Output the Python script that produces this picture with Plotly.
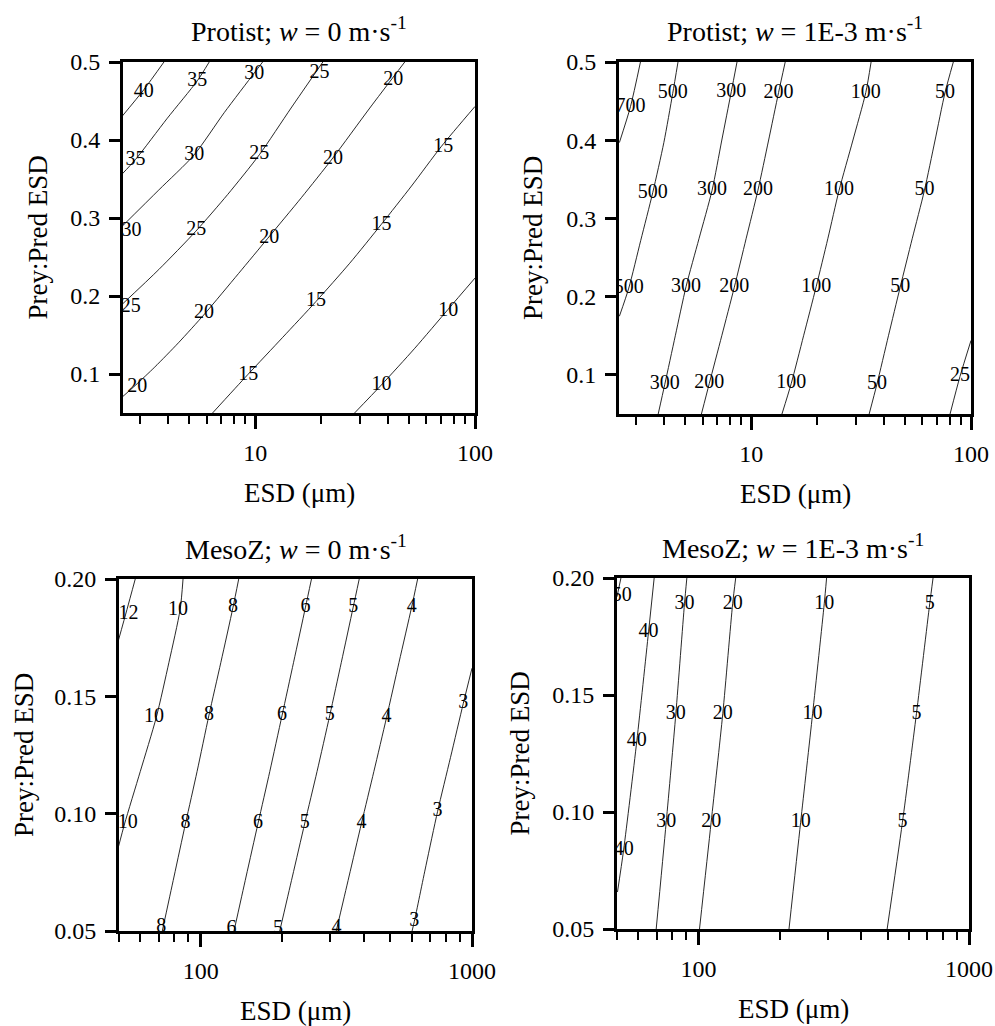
import math
import plotly.graph_objects as go

# ---------------- data ----------------
# Panel 1: Protist, w = 0
P1_LEVELS = [40, 35, 30, 25, 20, 15, 10]
P1_ESD = [
    [3.84, 3.11, 2.47],
    [6.17, 5.45, 3.98, 2.85, 2.47],
    [10.8, 9.9, 7.22, 5.27, 3.64, 2.47],
    [20.3, 14.55, 10.43, 7.48, 5.36, 3.64, 2.47],
    [47.9, 33.2, 22.55, 16.2, 11.4, 8.4, 5.88, 4.47, 3.49, 2.86, 2.40],
    [100, 70.4, 51.4, 37.5, 26.9, 18.9, 13.33, 9.23, 6.39],
    [100, 75.5, 53.2, 37.5, 28.3],
]
P1_RATIO = [
    [0.5, 0.4645, 0.430],
    [0.5, 0.476, 0.428, 0.375, 0.356],
    [0.5, 0.486, 0.435, 0.381, 0.336, 0.289],
    [0.5, 0.441, 0.381, 0.330, 0.283, 0.234, 0.189],
    [0.5, 0.441, 0.377, 0.326, 0.274, 0.229, 0.177, 0.140, 0.109, 0.086, 0.067],
    [0.443, 0.392, 0.341, 0.292, 0.242, 0.193, 0.147, 0.099, 0.05],
    [0.223, 0.183, 0.133, 0.086, 0.05],
]
P1_LAB_TEXT = ["40", "35", "30", "25", "20", "35", "30", "25", "20", "15",
               "30", "25", "20", "15", "25", "20", "15", "10", "20", "15", "10"]
P1_LAB_ESD = [3.11, 5.45, 9.9, 19.6, 42.4, 2.85, 5.27, 10.43, 22.55, 71.7,
              2.73, 5.38, 11.59, 37.5, 2.71, 5.85, 18.9, 75.5, 2.90, 9.3, 37.5]
P1_LAB_RATIO = [0.462, 0.476, 0.485, 0.486, 0.477, 0.375, 0.381, 0.382, 0.376, 0.391,
                0.283, 0.284, 0.275, 0.291, 0.186, 0.178, 0.193, 0.181, 0.083, 0.099, 0.086]

# Panel 2: Protist, w = 1E-3
P2_LEVELS = [700, 500, 300, 200, 100, 50, 25]
P2_ESD = [
    [3.13, 2.82, 2.51],
    [4.64, 4.39, 4.00, 3.56, 3.14, 2.77, 2.51],
    [8.61, 8.11, 7.33, 6.63, 5.78, 5.05, 4.51, 4.04, 3.77],
    [14.27, 13.31, 11.97, 10.72, 9.47, 8.37, 7.34, 6.44, 5.93],
    [35.1, 33.2, 28.95, 25.1, 22.3, 19.75, 17.3, 15.2, 13.79],
    [83.1, 76.2, 68.5, 61.4, 54.0, 47.6, 42.1, 37.3, 34.4],
    [100, 89.1, 80.3],
]
P2_RATIO = [
    [0.5, 0.443, 0.397],
    [0.5, 0.46, 0.397, 0.333, 0.272, 0.211, 0.175],
    [0.5, 0.462, 0.399, 0.336, 0.274, 0.213, 0.150, 0.088, 0.05],
    [0.5, 0.461, 0.399, 0.336, 0.274, 0.212, 0.150, 0.089, 0.05],
    [0.5, 0.461, 0.399, 0.336, 0.274, 0.213, 0.150, 0.089, 0.05],
    [0.5, 0.461, 0.399, 0.336, 0.274, 0.212, 0.150, 0.088, 0.05],
    [0.144, 0.098, 0.05],
]
P2_LAB_TEXT = ["700", "500", "300", "200", "100", "50",
               "500", "300", "200", "100", "50",
               "500", "300", "200", "100", "50",
               "300", "200", "100", "50", "25"]
P2_LAB_ESD = [2.82, 4.39, 8.11, 13.31, 33.2, 76.2,
              3.56, 6.63, 10.72, 25.1, 61.4,
              2.77, 5.05, 8.37, 19.75, 47.6,
              4.04, 6.44, 15.2, 37.3, 89.1]
P2_LAB_RATIO = [0.443, 0.460, 0.462, 0.461, 0.461, 0.461,
                0.333, 0.336, 0.336, 0.336, 0.336,
                0.211, 0.213, 0.212, 0.213, 0.212,
                0.088, 0.089, 0.089, 0.088, 0.098]

# Panel 3: MesoZ, w = 0
P3_LEVELS = [12, 10, 8, 6, 5, 4, 3]
P3_ESD = [
    [57.4, 53.5, 49.8],
    [86.1, 84.0, 76.4, 68.6, 59.9, 52.4, 49.8],
    [138.1, 131.6, 118.7, 107.3, 97.0, 88.0, 79.7, 72.2],
    [256.1, 243.4, 220.0, 199.6, 179.8, 162.8, 146.9, 132.7],
    [384.0, 364.9, 329.9, 299.2, 268.5, 242.0, 217.6, 195.6],
    [630.4, 599.1, 538.3, 484.3, 434.9, 391.6, 351.8, 315.9],
    [1000, 928.9, 833.4, 746.9, 676.9, 612.8, 601.4],
]
P3_RATIO = [
    [0.2, 0.187, 0.174],
    [0.2, 0.187, 0.1645, 0.141, 0.118, 0.0956, 0.086],
    [0.2, 0.188, 0.1645, 0.142, 0.118, 0.096, 0.073, 0.05],
    [0.2, 0.188, 0.1645, 0.142, 0.118, 0.096, 0.073, 0.05],
    [0.2, 0.188, 0.1645, 0.142, 0.118, 0.096, 0.073, 0.05],
    [0.2, 0.188, 0.1645, 0.141, 0.118, 0.096, 0.073, 0.05],
    [0.162, 0.147, 0.124, 0.101, 0.078, 0.054, 0.05],
]
P3_LAB_TEXT = ["12", "10", "8", "6", "5", "4",
               "10", "8", "6", "5", "4", "3",
               "10", "8", "6", "5", "4", "3",
               "8", "6", "5", "4", "3"]
P3_LAB_ESD = [54.2, 82.5, 131.6, 243.4, 364.9, 599.1,
              67.3, 107.3, 199.6, 299.2, 484.3, 928.9,
              53.9, 88.0, 162.8, 242.0, 391.6, 746.9,
              71.6, 129.8, 192.9, 316.7, 612.8]
P3_LAB_RATIO = [0.185, 0.187, 0.188, 0.188, 0.188, 0.188,
                0.141, 0.142, 0.142, 0.142, 0.141, 0.147,
                0.096, 0.096, 0.096, 0.096, 0.096, 0.101,
                0.0516, 0.0509, 0.0509, 0.0513, 0.0544]

# Panel 4: MesoZ, w = 1E-3
P4_LEVELS = [50, 40, 30, 20, 10, 5]
P4_ESD = [
    [51.7, 50.0],
    [68.6, 65.4, 59.2, 52.9, 50.2],
    [90.6, 88.8, 82.5, 76.0, 69.8],
    [137.3, 133.8, 123.0, 111.4, 100.9],
    [297.6, 291.7, 264.2, 238.6, 216.1],
    [736.5, 715.9, 639.3, 567.5, 498.3],
]
P4_RATIO = [
    [0.2, 0.192],
    [0.2, 0.177, 0.1305, 0.0838, 0.0658],
    [0.2, 0.189, 0.142, 0.0956, 0.05],
    [0.2, 0.189, 0.142, 0.0956, 0.05],
    [0.2, 0.189, 0.142, 0.0956, 0.05],
    [0.2, 0.189, 0.142, 0.0956, 0.05],
]
P4_LAB_TEXT = ["50", "40", "40", "40", "30", "30", "30", "20", "20", "20",
               "10", "10", "10", "5", "5", "5"]
P4_LAB_ESD = [52.1, 65.4, 59.2, 52.9, 88.8, 82.5, 76.0, 133.8, 123.0, 111.4,
              291.7, 264.2, 238.6, 715.9, 639.3, 567.5]
P4_LAB_RATIO = [0.1925, 0.177, 0.1305, 0.0838, 0.189, 0.142, 0.0956, 0.189, 0.142, 0.0956,
                0.189, 0.142, 0.0956, 0.189, 0.142, 0.0956]

TITLES = ["Protist; <i>w</i> = 0 m·s<sup>-1</sup>",
          "Protist; <i>w</i> = 1E-3 m·s<sup>-1</sup>",
          "MesoZ; <i>w</i> = 0 m·s<sup>-1</sup>",
          "MesoZ; <i>w</i> = 1E-3 m·s<sup>-1</sup>"]
X_TITLE = "ESD (μm)"
Y_TITLE = "Prey:Pred ESD"

PROT_XTICKS = [10, 100]
PROT_MINOR = [3, 4, 5, 6, 7, 8, 9, 20, 30, 40, 50, 60, 70, 80, 90]
PROT_YTICKS = [0.1, 0.2, 0.3, 0.4, 0.5]
MESO_XTICKS = [100, 1000]
MESO_MINOR = [50, 60, 70, 80, 90, 200, 300, 400, 500, 600, 700, 800, 900]
MESO_YTICKS = [0.05, 0.10, 0.15, 0.20]

# ---------------- figure ----------------
W, H = 995, 1026
FONT = "Liberation Serif"

# plot-area rectangles in pixels (left, right, top, bottom)
BOXES = [(123, 475, 62, 413), (619, 971, 62, 414), (119, 472, 579, 931), (617, 969, 578, 929)]

panels = [
    (P1_ESD, P1_RATIO, P1_LAB_TEXT, P1_LAB_ESD, P1_LAB_RATIO),
    (P2_ESD, P2_RATIO, P2_LAB_TEXT, P2_LAB_ESD, P2_LAB_RATIO),
    (P3_ESD, P3_RATIO, P3_LAB_TEXT, P3_LAB_ESD, P3_LAB_RATIO),
    (P4_ESD, P4_RATIO, P4_LAB_TEXT, P4_LAB_ESD, P4_LAB_RATIO),
]

fig = go.Figure()
for i, (esd, ratio, lt, lx, ly) in enumerate(panels):
    ax = "" if i == 0 else str(i + 1)
    for xs, ys in zip(esd, ratio):
        fig.add_trace(go.Scatter(x=xs, y=ys, mode="lines",
                                 line=dict(color="#111111", width=0.9,
                                           shape="spline", smoothing=0.7),
                                 xaxis="x" + ax, yaxis="y" + ax,
                                 hoverinfo="skip", showlegend=False))
    fig.add_trace(go.Scatter(x=lx, y=ly, mode="text", text=lt,
                             textposition="middle center",
                             textfont=dict(family=FONT, size=20, color="black"),
                             xaxis="x" + ax, yaxis="y" + ax,
                             hoverinfo="skip", showlegend=False, cliponaxis=True))

layout = dict(template="none", width=W, height=H, margin=dict(l=0, r=0, t=0, b=0, pad=0),
              paper_bgcolor="white", plot_bgcolor="white", showlegend=False,
              font=dict(family=FONT, color="black"), annotations=[])

for i, (l, r, t, b) in enumerate(BOXES):
    ax = "" if i == 0 else str(i + 1)
    prot = i < 2
    xr = [math.log10(2.5), 2] if prot else [math.log10(50), 3]
    yr = [0.05, 0.5] if prot else [0.05, 0.2]
    layout["xaxis" + ax] = dict(
        type="log", range=xr, domain=[l / W, r / W], anchor="y" + ax, automargin=False,
        showgrid=False, zeroline=False, showline=True, linecolor="black", linewidth=3,
        mirror=True, ticks="outside", ticklen=13, tickwidth=3, tickcolor="black",
        tickvals=PROT_XTICKS if prot else MESO_XTICKS,
        ticktext=[str(v) for v in (PROT_XTICKS if prot else MESO_XTICKS)],
        tickfont=dict(family=FONT, size=24, color="black"), ticklabelstandoff=3,
        minor=dict(tickvals=PROT_MINOR if prot else MESO_MINOR, ticks="outside",
                   ticklen=8, tickwidth=2, tickcolor="black", showgrid=False),
    )
    layout["yaxis" + ax] = dict(
        range=yr, domain=[1 - b / H, 1 - t / H], anchor="x" + ax, automargin=False,
        showgrid=False, zeroline=False, showline=True, linecolor="black", linewidth=3,
        mirror=True, ticks="outside", ticklen=11, tickwidth=3, tickcolor="black",
        tickvals=PROT_YTICKS if prot else MESO_YTICKS,
        ticktext=[("%.1f" % v) if prot else ("%.2f" % v) for v in (PROT_YTICKS if prot else MESO_YTICKS)],
        tickfont=dict(family=FONT, size=24, color="black"), ticklabelstandoff=4,
    )
    cx = (l + r) / 2
    layout["annotations"].append(dict(
        text=TITLES[i], x=cx / W, y=1 - (t - 32) / H, xref="paper", yref="paper",
        xanchor="center", yanchor="middle", showarrow=False,
        font=dict(family=FONT, size=28, color="black")))
    layout["annotations"].append(dict(
        text=X_TITLE, x=cx / W, y=1 - (b + 80) / H, xref="paper", yref="paper",
        xanchor="center", yanchor="middle", showarrow=False,
        font=dict(family=FONT, size=27, color="black")))
    ylx = [37, 533, 24, 519][i]
    layout["annotations"].append(dict(
        text=Y_TITLE, x=ylx / W, y=1 - ((t + b) / 2) / H, xref="paper", yref="paper",
        xanchor="center", yanchor="middle", showarrow=False, textangle=-90,
        font=dict(family=FONT, size=27, color="black")))

fig.update_layout(**layout)
fig.write_html("out.html")
